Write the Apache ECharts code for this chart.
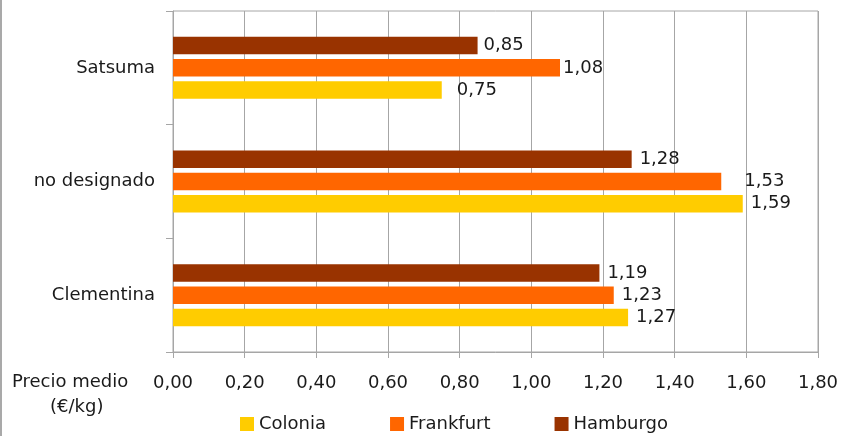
<!DOCTYPE html>
<html>
<head>
<meta charset="utf-8">
<script src="https://cdn.jsdelivr.net/npm/echarts@6/dist/echarts.min.js"></script>
<style>
  html, body { margin: 0; padding: 0; background: #fff; }
  #chart { width: 843px; height: 436px; }
</style>
</head>
<body>
<div id="chart"></div>
<script>
// Varieties, listed bottom to top as the category axis draws them
const categories = ['Clementina', 'no designado', 'Satsuma'];
const seriesNames = ['Colonia', 'Frankfurt', 'Hamburgo'];
// Average price (€/kg) per market, same order as categories
const colonia = [1.27, 1.59, 0.75];
const frankfurt = [1.23, 1.53, 1.08];
const hamburgo = [1.19, 1.28, 0.85];
const xTicks = [0, 0.2, 0.4, 0.6, 0.8, 1.0, 1.2, 1.4, 1.6, 1.8];

const colors = { Colonia: '#FFCC00', Frankfurt: '#FF6600', Hamburgo: '#993300' };
const FONT = 'DejaVu Sans';
const fmt = v => v.toFixed(2).replace('.', ',');

// a few value labels sit further from (or closer to) their bar end
const labelDistance = {
  'Colonia|Satsuma': 15,
  'Frankfurt|no designado': 23,
  'Frankfurt|Satsuma': 3,
  'Hamburgo|Satsuma': 6
};

function makeSeries(name, values) {
  return {
    name: name,
    type: 'bar',
    barWidth: 17.5,
    barGap: '27%',
    itemStyle: { color: colors[name] },
    data: values.map((v, i) => ({
      value: v,
      label: { distance: labelDistance[name + '|' + categories[i]] ?? 8 }
    })),
    label: {
      show: true,
      position: 'right',
      color: '#1a1a1a',
      fontFamily: FONT,
      fontSize: 18,
      formatter: p => fmt(p.value)
    }
  };
}

const chart = echarts.init(document.getElementById('chart'), null, { renderer: 'canvas' });
chart.setOption({
  animation: false,
  backgroundColor: '#fff',
  textStyle: { fontFamily: FONT },
  grid: {
    left: 173, right: 25, top: 11, bottom: 84,
    show: true, borderColor: '#A6A6A6', borderWidth: 1
  },
  legend: {
    left: 235, top: 410,
    itemWidth: 14, itemHeight: 14, itemGap: 64,
    icon: 'rect',
    data: seriesNames,
    textStyle: { fontFamily: FONT, fontSize: 18, color: '#1a1a1a' }
  },
  xAxis: {
    type: 'value',
    min: xTicks[0], max: xTicks[xTicks.length - 1], interval: 0.2,
    axisLine: { show: true, lineStyle: { color: '#A6A6A6' } },
    axisTick: { show: true, length: 6, lineStyle: { color: '#A6A6A6' } },
    splitLine: { show: true, lineStyle: { color: '#A6A6A6' } },
    axisLabel: { margin: 22, fontFamily: FONT, fontSize: 18, color: '#1a1a1a', formatter: v => fmt(v) }
  },
  yAxis: {
    type: 'category',
    data: categories,
    axisLine: { show: true, lineStyle: { color: '#A6A6A6' } },
    axisTick: { show: true, length: 7, lineStyle: { color: '#A6A6A6' } },
    axisLabel: { margin: 18, fontFamily: FONT, fontSize: 18, color: '#1a1a1a' }
  },
  graphic: [
    { type: 'line', shape: { x1: 1, y1: 0, x2: 1, y2: 436 }, style: { stroke: '#8c8c8c', lineWidth: 1.5 } },
    { type: 'text', left: 12, top: 373, style: { text: 'Precio medio', font: '18px "' + FONT + '"', fill: '#1a1a1a' } },
    { type: 'text', left: 50, top: 398, style: { text: '(€/kg)', font: '18px "' + FONT + '"', fill: '#1a1a1a' } }
  ],
  // horizontal bars stack their series top-down inside a band, so Hamburgo goes first
  series: [
    makeSeries('Hamburgo', hamburgo),
    makeSeries('Frankfurt', frankfurt),
    makeSeries('Colonia', colonia)
  ]
});
</script>
</body>
</html>
